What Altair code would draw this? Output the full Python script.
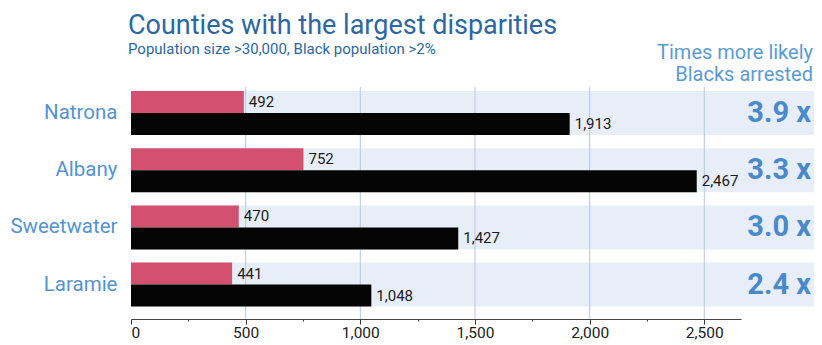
import altair as alt
import pandas as pd

counties = ["Natrona", "Albany", "Sweetwater", "Laramie"]
white_vals = [492, 752, 470, 441]
black_vals = [1913, 2467, 1427, 1048]
ratio_labels = ["3.9 x", "3.3 x", "3.0 x", "2.4 x"]
series = ["White", "Black"]
grid_vals = [500, 1000, 1500, 2000, 2500]
title_text = "Counties with the largest disparities"
subtitle_text = "Population size >30,000, Black population >2%"
legend_lines = ["Times more likely", "Blacks arrested"]

FONT = "Roboto"
W, H = 610, 232

bars = pd.DataFrame({
    "county": counties * 2,
    "series": ["White"] * 4 + ["Black"] * 4,
    "value": white_vals + black_vals,
})
ratios = pd.DataFrame({"county": counties, "ratio": ratio_labels})
grid = pd.DataFrame({"value": grid_vals})

xenc = alt.X(
    "value:Q",
    scale=alt.Scale(domain=[0, 2660], nice=False, zero=True),
    axis=alt.Axis(
        title=None,
        values=list(range(0, 2751, 250)),
        labelExpr="datum.value % 500 === 0 ? format(datum.value, ',') : ''",
        tickSize={"condition": {"test": "datum.value % 500 === 0", "value": 5}, "value": 2},
        tickColor="#333333",
        domainColor="#444444",
        labelFont=FONT,
        labelFontSize=15.5,
        labelColor="#222222",
        labelPadding=1,
        grid=False,
    ),
)
yenc = alt.Y(
    "county:N",
    sort=counties,
    scale=alt.Scale(domain=counties, paddingInner=0.231, paddingOuter=0.1435, align=0.244),
    axis=alt.Axis(
        title=None,
        ticks=False,
        domain=False,
        labelFont=FONT,
        labelFontSize=20.5,
        labelColor="#5593d2",
        labelPadding=14,
    ),
)
yoff = alt.YOffset(
    "series:N",
    sort=series,
    scale=alt.Scale(domain=series, paddingInner=0, paddingOuter=0),
)

bg = alt.Chart(ratios).mark_rect(color="#e8eef7").encode(
    y=yenc, x=alt.value(0), x2=alt.value(683)
)
gridl = alt.Chart(grid).mark_rule(color="#b3c8e7", strokeWidth=1).encode(
    x=xenc, y=alt.value(0), y2=alt.value(H)
)
bar = alt.Chart(bars).mark_bar().encode(
    x=xenc,
    y=yenc,
    yOffset=yoff,
    color=alt.Color("series:N", scale=alt.Scale(domain=series, range=["#d3506f", "#050505"]), legend=None),
)
vlab = alt.Chart(bars).mark_text(
    align="left", baseline="middle", dx=5, font=FONT, fontSize=15, color="#1a1a1a"
).encode(
    x=xenc, y=yenc, yOffset=yoff, text=alt.Text("value:Q", format=",")
)
rlab = alt.Chart(ratios).mark_text(
    align="right", baseline="middle", font=FONT, fontSize=29, fontWeight="bold", color="#4a8acb"
).encode(
    y=yenc, x=alt.value(680), text="ratio:N"
)
t1 = alt.Chart(pd.DataFrame({"t": [title_text]})).mark_text(
    align="left", baseline="alphabetic", font=FONT, fontSize=27, color="#2c67a0"
).encode(text="t:N", x=alt.value(-3), y=alt.value(-53))
t2 = alt.Chart(pd.DataFrame({"t": [subtitle_text]})).mark_text(
    align="left", baseline="alphabetic", font=FONT, fontSize=15, color="#2c67a0"
).encode(text="t:N", x=alt.value(-3), y=alt.value(-33))
l1 = alt.Chart(pd.DataFrame({"t": [legend_lines[0]]})).mark_text(
    align="right", baseline="alphabetic", font=FONT, fontSize=20, color="#5b9bd5"
).encode(text="t:N", x=alt.value(682), y=alt.value(-28))
l2 = alt.Chart(pd.DataFrame({"t": [legend_lines[1]]})).mark_text(
    align="right", baseline="alphabetic", font=FONT, fontSize=20, color="#5b9bd5"
).encode(text="t:N", x=alt.value(682), y=alt.value(-6))

chart = alt.layer(bg, gridl, bar, vlab, rlab, t1, t2, l1, l2).properties(
    width=W,
    height=H,
    autosize=alt.AutoSizeParams(type="none"),
    padding={"left": 123, "top": 79, "right": 73, "bottom": 25},
).configure_view(stroke=None)

chart.save("out.html", embed_options={"renderer": "svg", "actions": False})
